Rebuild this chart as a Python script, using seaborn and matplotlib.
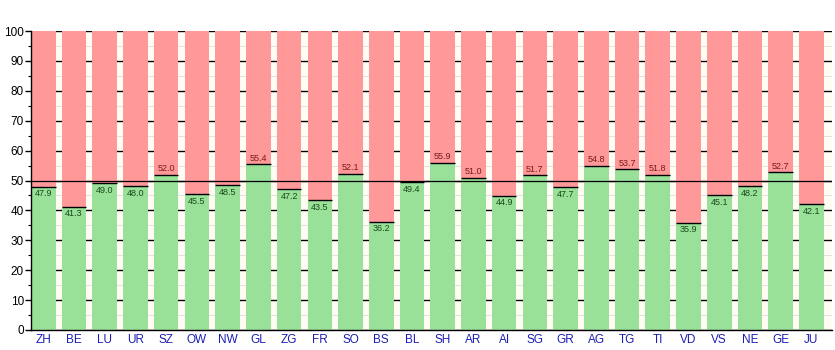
import matplotlib
matplotlib.use("Agg")
import matplotlib.pyplot as plt
from matplotlib.ticker import MultipleLocator
import seaborn as sns
import pandas as pd

cantons = ["ZH", "BE", "LU", "UR", "SZ", "OW", "NW", "GL", "ZG", "FR", "SO", "BS", "BL",
           "SH", "AR", "AI", "SG", "GR", "AG", "TG", "TI", "VD", "VS", "NE", "GE", "JU"]
yes_share = [47.9, 41.3, 49.0, 48.0, 52.0, 45.5, 48.5, 55.4, 47.2, 43.5, 52.1, 36.2, 49.4,
             55.9, 51.0, 44.9, 51.7, 47.7, 54.8, 53.7, 51.8, 35.9, 45.1, 48.2, 52.7, 42.1]
total = [100.0] * len(cantons)

df = pd.DataFrame({"canton": cantons, "yes": yes_share, "total": total})

sns.set_theme(style="white")
plt.rcParams["font.family"] = ["Liberation Sans", "DejaVu Sans"]

fig = plt.figure(figsize=(8.35, 3.5), dpi=100)
ax = fig.add_axes([31 / 835, 20 / 350, 801 / 835, 299 / 350])
ax.set_facecolor("#fffdf3")

bar_w = 0.8
sns.barplot(data=df, x="canton", y="total", color="#ff9999", saturation=1,
            width=bar_w, ax=ax, zorder=3, edgecolor="none")
sns.barplot(data=df, x="canton", y="yes", color="#99e099", saturation=1,
            width=bar_w, ax=ax, zorder=4, edgecolor="none")

# boundary line at the top of each green bar, with its value
for i, v in enumerate(yes_share):
    ax.hlines(v, i - bar_w / 2, i + bar_w / 2, color="black", lw=1, zorder=5)
    if v >= 50:
        ax.text(i, v + 0.6, f"{v:.1f}", ha="center", va="bottom", fontsize=6.5,
                color="#7a1a1a", zorder=6)
    else:
        ax.text(i, v - 0.9, f"{v:.1f}", ha="center", va="top", fontsize=6.5,
                color="#1a4a1a", zorder=6)

ax.axhline(50, color="black", lw=0.9, zorder=5)

ax.set_xlim(-0.4, 25.67)
ax.set_ylim(0, 100)
ax.yaxis.set_major_locator(MultipleLocator(10))
ax.yaxis.set_minor_locator(MultipleLocator(5))
ax.grid(which="major", axis="y", color="black", lw=1, zorder=1)
ax.grid(which="minor", axis="y", color="#dddddd", lw=0.6, zorder=1)
ax.set_axisbelow(True)

for s in ["top", "right"]:
    ax.spines[s].set_visible(False)
for s in ["left", "bottom"]:
    ax.spines[s].set_color("black")
    ax.spines[s].set_linewidth(1)
    ax.spines[s].set_zorder(7)

ax.tick_params(axis="y", which="major", direction="out", length=4, width=1,
               color="black", labelsize=8.5, labelcolor="black", pad=1, left=True)
ax.tick_params(axis="y", which="minor", direction="out", length=2, width=0.8,
               color="black", left=True)
ax.tick_params(axis="x", length=0, labelsize=8.5, labelcolor="#1c1cb4", pad=3)
ax.set_xlabel("")
ax.set_ylabel("")

fig.savefig("out.png", dpi=100)
